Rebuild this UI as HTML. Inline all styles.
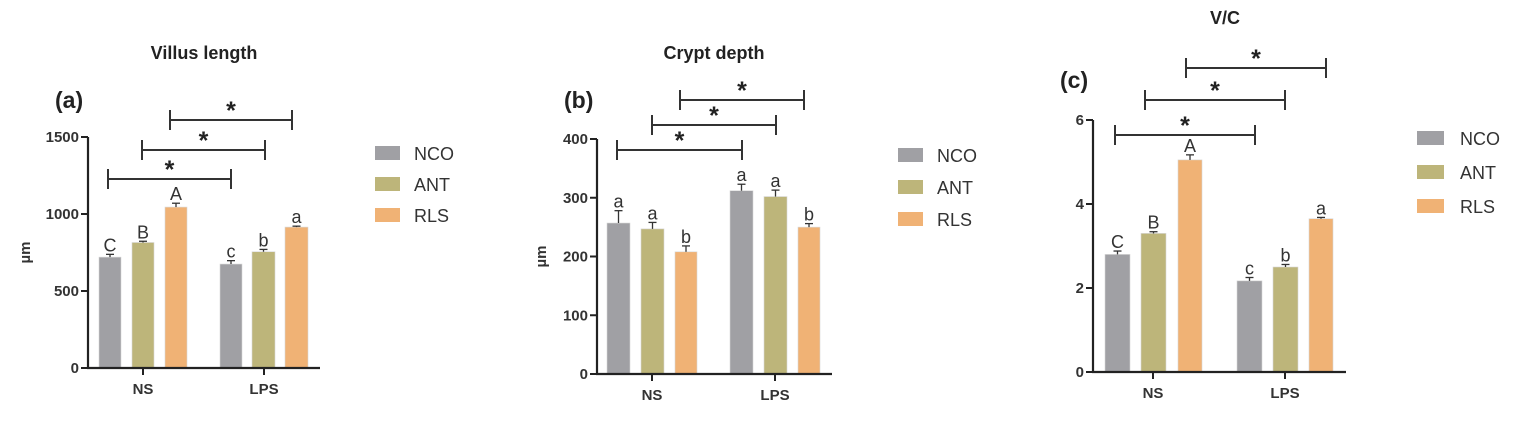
<!DOCTYPE html>
<html><head><meta charset="utf-8"><style>
html,body{margin:0;padding:0;background:#fff;}
svg{display:block;font-family:"Liberation Sans",Arial,sans-serif;}
</style></head><body>
<svg id="s" width="1517" height="421" viewBox="0 0 1517 421" xmlns="http://www.w3.org/2000/svg"></svg>
<script>
const S=document.getElementById('s');let h='';
const C=['#a0a0a4','#bdb57a','#f0b275'];
function panel(p){
 const {ax,y0,yTop,max,ticks,bars,vals,errs,lets,axEnd,tk,br,leg,title,tx,ty,lab,lx,ly,ulx}=p;
 const sc=(y0-yTop)/max;
 bars.forEach((b,i)=>{const v=vals[i],yt=y0-v*sc,e=errs[i]*sc,cx=(b[0]+b[1])/2;
  h+=`<rect x="${b[0]}" y="${yt}" width="${b[1]-b[0]}" height="${y0-yt}" fill="${C[i%3]}" stroke="#d8d8d8" stroke-width="0.6"/>`;
  h+=`<line x1="${cx}" y1="${yt}" x2="${cx}" y2="${yt-e}" stroke="#333" stroke-width="1.3"/><line x1="${cx-4}" y1="${yt-e}" x2="${cx+4}" y2="${yt-e}" stroke="#333" stroke-width="1.3"/>`;
  h+=`<text x="${cx}" y="${yt-e-3}" font-size="18" text-anchor="middle" fill="#333">${lets[i]}</text>`;});
 h+=`<line x1="${ax}" y1="${yTop}" x2="${ax}" y2="${y0+1}" stroke="#222" stroke-width="2.2"/><line x1="${ax-1}" y1="${y0}" x2="${axEnd}" y2="${y0}" stroke="#222" stroke-width="2.2"/>`;
 ticks.forEach(t=>{const y=y0-t*sc;h+=`<line x1="${ax-7}" y1="${y}" x2="${ax}" y2="${y}" stroke="#222" stroke-width="2"/><text x="${ax-9}" y="${y+5}" font-size="15" font-weight="bold" text-anchor="end" fill="#333">${t}</text>`;});
 [['NS',tk[0]],['LPS',tk[1]]].forEach(([n,x])=>{h+=`<line x1="${x}" y1="${y0}" x2="${x}" y2="${y0+7}" stroke="#222" stroke-width="2"/><text x="${x}" y="${y0+26}" font-size="15" font-weight="bold" text-anchor="middle" fill="#333">${n}</text>`;});
 br.forEach(([y,x1,x2])=>{h+=`<line x1="${x1}" y1="${y}" x2="${x2}" y2="${y}" stroke="#333" stroke-width="2"/><line x1="${x1}" y1="${y-10}" x2="${x1}" y2="${y+10}" stroke="#333" stroke-width="2"/><line x1="${x2}" y1="${y-10}" x2="${x2}" y2="${y+10}" stroke="#333" stroke-width="2"/><text x="${(x1+x2)/2}" y="${y-1}" font-size="25" font-weight="bold" text-anchor="middle" fill="#222">*</text>`;});
 ['NCO','ANT','RLS'].forEach((n,i)=>{const cy=leg[1]+i*leg[2];h+=`<rect x="${leg[0]}" y="${cy-7}" width="${leg[3]}" height="14" fill="${C[i]}"/><text x="${leg[4]}" y="${cy+7}" font-size="18" fill="#333">${n}</text>`;});
 h+=`<text x="${tx}" y="${ty}" font-size="18" font-weight="bold" text-anchor="middle" fill="#222">${title}</text>`;
 h+=`<text x="${lx}" y="${ly}" font-size="23" font-weight="bold" fill="#222">${lab}</text>`;
 if(ulx)h+=`<text transform="translate(${ulx},${(y0+yTop)/2}) rotate(-90)" font-size="15" font-weight="bold" text-anchor="middle" fill="#333">µm</text>`;
}
panel({ax:88,y0:368,yTop:137,max:1500,ticks:[0,500,1000,1500],
 bars:[[99,121],[132,154],[165,187],[220,242],[252,275],[285,308]],
 vals:[720,815,1045,675,755,915],errs:[18,8,25,22,15,6],lets:['C','B','A','c','b','a'],
 axEnd:320,tk:[143,264],br:[[179,108,231],[150,142,265],[120,170,292]],
 leg:[375,153,31,25,414],title:'Villus length',tx:204,ty:59,lab:'(a)',lx:55,ly:108,ulx:30});
panel({ax:597,y0:374,yTop:139,max:400,ticks:[0,100,200,300,400],
 bars:[[607,630],[641,664],[675,697],[730,753],[764,787],[798,820]],
 vals:[257,247,208,312,302,250],errs:[21,11,10,11,11,6],lets:['a','a','b','a','a','b'],
 axEnd:832,tk:[652,775],br:[[150,617,742],[125,652,776],[100,680,804]],
 leg:[898,155,32,25,937],title:'Crypt depth',tx:714,ty:59,lab:'(b)',lx:564,ly:108,ulx:546});
panel({ax:1093,y0:372,yTop:120,max:6,ticks:[0,2,4,6],
 bars:[[1105,1130],[1141,1166],[1178,1202],[1237,1262],[1273,1298],[1309,1333]],
 vals:[2.8,3.3,5.05,2.17,2.5,3.65],errs:[0.08,0.04,0.12,0.08,0.06,0.03],lets:['C','B','A','c','b','a'],
 axEnd:1346,tk:[1153,1285],br:[[135,1115,1255],[100,1145,1285],[68,1186,1326]],
 leg:[1417,138,34,27,1460],title:'V/C',tx:1225,ty:24,lab:'(c)',lx:1060,ly:88,ulx:0});
S.innerHTML=h;
</script>
</body></html>
